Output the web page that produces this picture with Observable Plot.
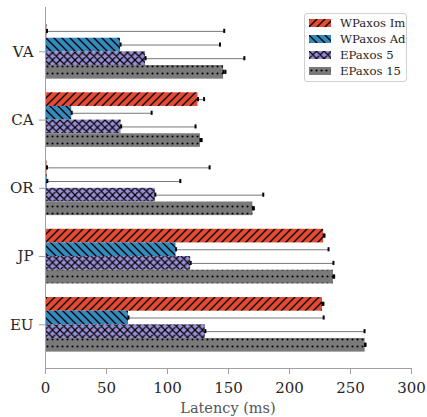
<!DOCTYPE html>
<html>
<head>
<meta charset="utf-8">
<script src="https://cdn.jsdelivr.net/npm/d3@7"></script>
<script src="https://cdn.jsdelivr.net/npm/@observablehq/plot@0.6"></script>
<style>
  html, body { margin: 0; padding: 0; background: #fff; }
  #wrap { position: relative; width: 427px; height: 417px; font-family: "DejaVu Serif", serif; }
  #wrap svg text { fill: #262626; }
  #legend {
    position: absolute; left: 304px; top: 13px; width: 97px; height: 66px;
    border: 1px solid #d0d0d0; border-radius: 3px; background: rgba(255,255,255,0.85);
    padding: 1px 0 0 4px; box-sizing: content-box;
  }
  .row { height: 16px; display: flex; align-items: center; font-size: 11.7px; color: #262626; white-space: nowrap; }
  .row svg { margin-right: 9px; display: block; }
  #xlabel {
    position: absolute; left: 45px; width: 366px; top: 400px; line-height: 16px;
    text-align: center; font-size: 14.5px; color: #555;
  }
</style>
</head>
<body>
<svg width="0" height="0" style="position:absolute">
  <defs>
    <pattern id="hatch0" patternUnits="userSpaceOnUse" width="8" height="8">
      <rect width="8" height="8" fill="#E24A33"/>
      <path d="M-2,2 l4,-4 M0,8 l8,-8 M6,10 l4,-4" stroke="#000" stroke-width="1.3"/>
    </pattern>
    <pattern id="hatch1" patternUnits="userSpaceOnUse" width="8" height="8">
      <rect width="8" height="8" fill="#348ABD"/>
      <path d="M-2,6 l4,4 M0,0 l8,8 M6,-2 l4,4" stroke="#000" stroke-width="1.3"/>
    </pattern>
    <pattern id="hatch2" patternUnits="userSpaceOnUse" width="7.5" height="7.5">
      <rect width="7.5" height="7.5" fill="#988ED5"/>
      <path d="M-2,2 l4,-4 M0,7.5 l7.5,-7.5 M5.5,9.5 l4,-4 M-2,5.5 l4,4 M0,0 l7.5,7.5 M5.5,-2 l4,4" stroke="#000" stroke-width="1.2"/>
    </pattern>
    <pattern id="hatch3" patternUnits="userSpaceOnUse" width="5" height="7">
      <rect width="5" height="7" fill="#7a7a7a"/>
      <circle cx="2.5" cy="3.5" r="1.05" fill="#000"/>
    </pattern>
  </defs>
</svg>
<div id="wrap">
  <div id="chart"></div>
  <div id="legend"></div>
  <div id="xlabel">Latency (ms)</div>
</div>
<script>
// ---- data ----
const regions = ["VA", "CA", "OR", "JP", "EU"];           // top to bottom
const series = ["WPaxos Im", "WPaxos Ad", "EPaxos 5", "EPaxos 15"];
const latency = {
  "WPaxos Im": [1.2, 125, 1.2, 228, 227],
  "WPaxos Ad": [61.5, 21.5, 1.5, 107, 68],
  "EPaxos 5":  [82, 62, 90, 119, 131],
  "EPaxos 15": [146, 127, 170, 236, 262]
};
const upper = {
  "WPaxos Im": [146.5, 130, 134.5, 228.7, 227.8],
  "WPaxos Ad": [143, 87, 110.5, 232, 228],
  "EPaxos 5":  [163, 123, 178.5, 236, 261.5],
  "EPaxos 15": [147.5, 128, 170.8, 236.6, 262.3]
};
const xTicks = [0, 50, 100, 150, 200, 250, 300];
const patternIds = ["hatch0", "hatch1", "hatch2", "hatch3"];

// ---- table ----
const rows = regions.flatMap((r, ri) => series.map((s, j) => ({
  region: r, series: s, j, idx: regions.length - 1 - ri,
  value: latency[s][ri], upper: upper[s][ri]
})));
const yc = d => d.idx + 0.3 - 0.2 * d.j;

const bottomUp = regions.slice().reverse();

const chart = Plot.plot({
  width: 427, height: 417,
  marginLeft: 45, marginRight: 16, marginTop: 7, marginBottom: 49,
  style: { fontFamily: "DejaVu Serif", fontSize: "15px", color: "#a0a0a0", background: "white", overflow: "visible" },
  x: { domain: [0, 300], ticks: xTicks, tickSize: 6, tickPadding: 8, label: null },
  y: { domain: [-0.64, 4.65], ticks: [0, 1, 2, 3, 4], tickFormat: i => bottomUp[i], tickSize: 6, tickPadding: 6, label: null },
  marks: [
    ...series.map((s, j) => Plot.rectX(rows.filter(d => d.j === j), {
      x1: 0, x2: "value", y1: d => yc(d) - 0.1, y2: d => yc(d) + 0.1,
      fill: `url(#${patternIds[j]})`
    })),
    Plot.ruleY(rows, { x1: "value", x2: "upper", y: yc, stroke: "#777", strokeWidth: 1 }),
    Plot.ruleX(rows, { x: "upper", y1: d => yc(d) - 0.03, y2: d => yc(d) + 0.03, stroke: "#000", strokeWidth: 2 }),
    Plot.ruleX(rows, { x: "value", y1: d => yc(d) - 0.03, y2: d => yc(d) + 0.03, stroke: "#000", strokeWidth: 2 }),
    Plot.ruleX([0], { stroke: "#a0a0a0" }),
    Plot.ruleY([-0.64], { stroke: "#a0a0a0" })
  ]
});
document.getElementById("chart").appendChild(chart);

// ---- legend ----
const legend = document.getElementById("legend");
series.forEach((s, j) => {
  const row = document.createElement("div");
  row.className = "row";
  row.innerHTML = `<svg width="22" height="8"><rect width="22" height="8" fill="url(#${patternIds[j]})"/></svg><span>${s}</span>`;
  legend.appendChild(row);
});
</script>
</body>
</html>
